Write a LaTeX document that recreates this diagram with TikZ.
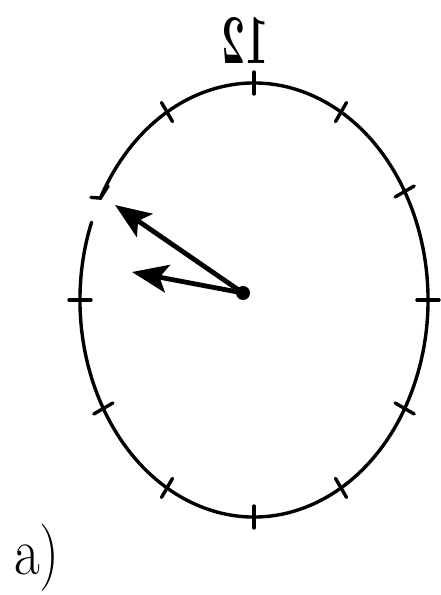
\documentclass[tikz,border=0pt]{standalone}
\usepackage{tikz}
\usetikzlibrary{arrows.meta}

\begin{document}
\begin{tikzpicture}[x=0.5pt, y=0.5pt,
    faceLine/.style={line width=1.7pt, line cap=round},
    handArrow/.style={-{Stealth[length=18pt, width=14pt, inset=4pt]}, line width=2.4pt}]
\useasboundingbox (0,0) rectangle (440,595);

% Clock face, broken near ten
\coordinate (mid) at (254,295);
\draw[faceLine] (mid) ++(159:174 and 217) arc[start angle=159, end angle=512, x radius=174, y radius=217];

% Hour ticks
\foreach \t in {0,30,60,90,120,180,210,240,270,300,330}
  \draw[faceLine] ([shift={(\t:163 and 206)}]mid) -- ([shift={(\t:185 and 228)}]mid);
\draw[faceLine] ([shift={(148:172 and 215)}]mid) -- ([shift={(152:174 and 217)}]mid) -- ([shift={(153:183 and 226)}]mid);

% Mirrored numeral
\node[xscale=-0.8, yscale=1.35, font=\fontsize{26}{26}\selectfont\bfseries] (twelve) at (245,555) {12};

% Hands
\node[circle, fill, inner sep=0pt, minimum size=7pt] (pivot) at (243,302) {};
\coordinate (tipLong) at (115,390);
\coordinate (tipShort) at (132,323);
\draw[handArrow] (pivot.center) -- (tipLong);
\draw[handArrow] (pivot.center) -- (tipShort);

% Caption
\node[font=\fontsize{28}{28}\selectfont, yscale=1.2] (caption) at (37,37) {a)};

\end{tikzpicture}
\end{document}
